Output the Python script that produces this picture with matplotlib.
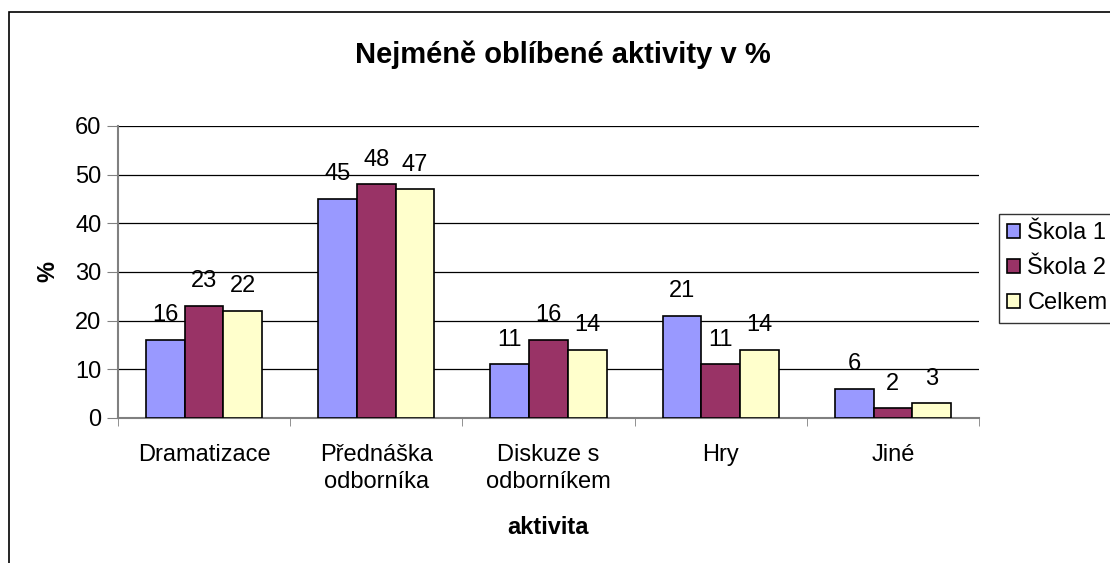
import matplotlib.pyplot as plt
import numpy as np
from matplotlib.patches import Rectangle

categories = ['Dramatizace', 'Přednáška\nodborníka', 'Diskuze s\nodborníkem', 'Hry', 'Jiné']
skola1 = [16, 45, 11, 21, 6]
skola2 = [23, 48, 16, 11, 2]
celkem = [22, 47, 14, 14, 3]
series_names = ['Škola 1', 'Škola 2', 'Celkem']
colors = ['#9999FF', '#993366', '#FFFFCC']

plt.rcParams['font.family'] = ['Liberation Sans', 'DejaVu Sans']
fs = 17

fig = plt.figure(figsize=(11.1, 5.63), dpi=100)

# outer chart border (runs off the right and bottom edge)
fig.patches.append(Rectangle((9 / 1110, -0.1), 1.2, 1 - 12 / 563 + 0.1,
                             transform=fig.transFigure, fill=False,
                             edgecolor='black', linewidth=1.2))

ax = fig.add_axes([118 / 1110, 145 / 563, 861 / 1110, 292 / 563])

x = np.arange(len(categories))
width = 0.225
for i, (vals, name, col) in enumerate(zip([skola1, skola2, celkem], series_names, colors)):
    b = ax.bar(x + (i - 1) * width, vals, width, color=col, edgecolor='black',
               linewidth=1.2, label=name, zorder=3)
    for rect, v in zip(b, vals):
        ax.annotate(str(v), (rect.get_x() + rect.get_width() / 2, v),
                    xytext=(0, 13.5), textcoords='offset points',
                    ha='center', va='baseline', fontsize=fs)

ax.set_xlim(-0.5, len(categories) - 0.5)
ax.set_ylim(0, 60)
ax.set_yticks(range(0, 61, 10))
ax.yaxis.grid(True, color='black', linewidth=0.9, zorder=0)
ax.set_axisbelow(True)

ax.set_xticks(x)
ax.set_xticklabels(categories, fontsize=fs, linespacing=1.3)
ax.set_xticks(np.arange(-0.5, len(categories), 1), minor=True)
ax.tick_params(axis='x', which='major', length=0, pad=19)
ax.tick_params(axis='x', which='minor', length=6, color='#808080', direction='out')
ax.tick_params(axis='y', labelsize=fs, length=8, color='#808080', pad=4)

for s in ['top', 'right']:
    ax.spines[s].set_visible(False)
for s in ['left', 'bottom']:
    ax.spines[s].set_color('#808080')
    ax.spines[s].set_linewidth(1.5)

ax.set_xlabel('aktivita', fontsize=fs, fontweight='bold', labelpad=16)
ax.set_ylabel('%', fontsize=fs, fontweight='bold', labelpad=11)

fig.text(563 / 1110, 1 - 55 / 563, 'Nejméně oblíbené aktivity v %',
         ha='center', va='center', fontsize=21, fontweight='bold')

leg = fig.legend(loc='upper left', bbox_to_anchor=(999 / 1110, 1 - 214 / 563),
                 fontsize=fs, frameon=True, fancybox=False, edgecolor='black',
                 handlelength=0.55, handleheight=0.55, handletextpad=0.3,
                 borderpad=0.35, labelspacing=0.55, borderaxespad=0)
leg.get_frame().set_linewidth(1.0)

fig.savefig('out.png', dpi=100)
